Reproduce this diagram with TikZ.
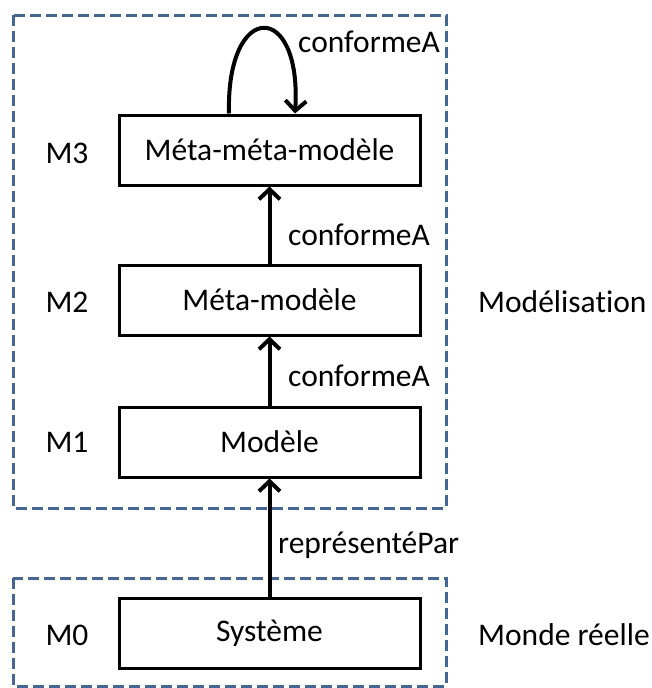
\documentclass[tikz,border=0pt]{standalone}
\usepackage{fontspec}
\setmainfont[RawFeature={-liga}]{Carlito}
\usetikzlibrary{arrows.meta}
\definecolor{dashblue}{RGB}{68,102,146}
\begin{document}
\begin{tikzpicture}[x=1pt,y=-1pt,
  box/.style={draw,line width=3pt,minimum width=301pt,minimum height=70pt,inner sep=0pt,font=\fontsize{31.5}{36}\selectfont},
  txt/.style={inner sep=0pt,font=\fontsize{31.5}{36}\selectfont},
  group/.style={draw=dashblue,line width=3pt,dash pattern=on 11pt off 5pt},
  arr/.style={line width=4pt,-{Straight Barb[length=10pt,width=21pt,line width=4pt]}}]
\useasboundingbox (0,0) rectangle (651,688);
\draw[group] (13,15) rectangle (446,508);
\draw[group] (13,578) rectangle (446,686);
\node[box] (m3) at (269.5,150) {Méta-méta-modèle};
\node[box] (m2) at (269.5,300) {Méta-modèle};
\node[box] (m1) at (269.5,442) {Modèle};
\node[box] (m0) at (269.5,633) {Système};
\node[txt] (l3) at (67,153) {M3};
\node[txt] (l2) at (67,302) {M2};
\node[txt] (l1) at (67,442) {M1};
\node[txt] (l0) at (67,635) {M0};
\draw[arr] ([xshift=-40.5pt]m3.north) .. controls (226,0) and (302,0) .. ([xshift=25.5pt]m3.north);
\draw[arr] (m2) -- (m3);
\draw[arr] (m1) -- (m2);
\draw[arr] (m0) -- (m1);
\node[txt,anchor=west] (c3) at (298,42) {conformeA};
\node[txt,anchor=west] (c2) at (288,235) {conformeA};
\node[txt,anchor=west] (c1) at (288,376) {conformeA};
\node[txt,anchor=west] (rp) at (278,545) {représentéPar};
\node[txt,anchor=west] (mod) at (478,302) {Modélisation};
\node[txt,anchor=west] (mr) at (478,635) {Monde réelle};
\end{tikzpicture}
\end{document}
